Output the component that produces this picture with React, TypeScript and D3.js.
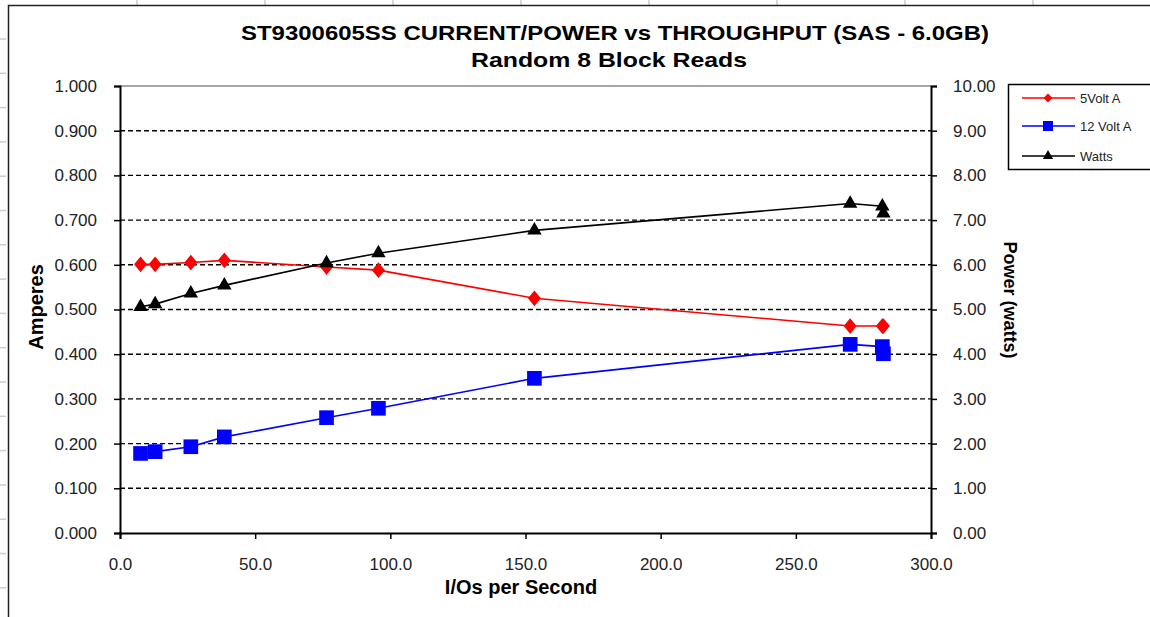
import React, { useEffect, useRef } from 'react';
import * as d3 from 'd3';

// values
const iops = [7.6, 13.0, 26.2, 38.6, 76.4, 95.6, 153.3, 270.1, 282.0, 282.4];
const volt5 = [0.601, 0.601, 0.605, 0.61, 0.595, 0.588, 0.525, 0.463, 0.463, 0.463];
const volt12 = [0.178, 0.182, 0.193, 0.215, 0.258, 0.279, 0.346, 0.422, 0.417, 0.401];
const watts = [5.06, 5.12, 5.36, 5.54, 6.04, 6.26, 6.77, 7.37, 7.31, 7.15];

const xTicks = [0, 50, 100, 150, 200, 250, 300];
const ampTicks = [0, 0.1, 0.2, 0.3, 0.4, 0.5, 0.6, 0.7, 0.8, 0.9, 1.0];
const wattTicks = [0, 1, 2, 3, 4, 5, 6, 7, 8, 9, 10];

const seriesNames = ['5Volt A', '12 Volt A', 'Watts'];
const seriesColors = ['#ff0000', '#0000ff', '#000000'];

const title1 = 'ST9300605SS CURRENT/POWER vs THROUGHPUT (SAS - 6.0GB)';
const title2 = 'Random 8 Block Reads';

const FONT = 'Arial, "Liberation Sans", sans-serif';

const App = () => {
  const ref = useRef<SVGSVGElement>(null);

  useEffect(() => {
    const W = 1150, H = 617;
    const svg = d3.select(ref.current);
    svg.selectAll('*').remove();

    const margin = { top: 86, left: 120, right: 931, bottom: 533 };

    // spreadsheet behind the chart
    const bg = svg.append('g');
    d3.range(39, H, 34.3).forEach((y) => {
      bg.append('line').attr('x1', 0).attr('x2', 6).attr('y1', y).attr('y2', y)
        .attr('stroke', '#c5cdd8').attr('stroke-width', 1.5);
    });
    d3.range(137, W, 128).forEach((x) => {
      bg.append('line').attr('x1', x).attr('x2', x).attr('y1', 0).attr('y2', 5)
        .attr('stroke', '#c5cdd8').attr('stroke-width', 1.5);
    });

    // chart frame
    svg.append('rect').attr('x', 8.5).attr('y', 5.5).attr('width', W + 20).attr('height', H + 20)
      .attr('fill', '#fff').attr('stroke', '#222').attr('stroke-width', 1.5);

    const x = d3.scaleLinear().domain([0, 300]).range([margin.left, margin.right]);
    const yA = d3.scaleLinear().domain([0, 1]).range([margin.bottom, margin.top]);
    const yW = d3.scaleLinear().domain([0, 10]).range([margin.bottom, margin.top]);

    // gridlines
    ampTicks.forEach((t) => {
      if (t === 0) return;
      svg.append('line')
        .attr('x1', margin.left).attr('x2', margin.right)
        .attr('y1', yA(t)).attr('y2', yA(t))
        .attr('stroke', t === 1 ? '#888' : '#000')
        .attr('stroke-width', 1.4)
        .attr('stroke-dasharray', t === 1 ? null : '5,3');
    });

    // left axis
    const left = svg.append('g').attr('transform', `translate(${margin.left},0)`)
      .call(d3.axisLeft(yA).tickValues(ampTicks).tickFormat(d3.format('.3f')).tickSize(6).tickPadding(17));
    // right axis
    const right = svg.append('g').attr('transform', `translate(${margin.right},0)`)
      .call(d3.axisRight(yW).tickValues(wattTicks).tickFormat(d3.format('.2f')).tickSize(6).tickPadding(16));
    // bottom axis
    const bottom = svg.append('g').attr('transform', `translate(0,${margin.bottom})`)
      .call(d3.axisBottom(x).tickValues(xTicks).tickFormat(d3.format('.1f')).tickSize(6).tickPadding(19));

    [left, right, bottom].forEach((g) => {
      g.select('.domain').attr('stroke', '#000').attr('stroke-width', 2);
      g.selectAll('.tick line').attr('stroke', '#000').attr('stroke-width', 1.5);
      g.selectAll('.tick text').attr('fill', '#222').style('font-family', FONT).style('font-size', '17px');
    });
    right.selectAll('.tick text').attr('text-anchor', 'start');

    // series
    const pts = (vals: number[], yS: d3.ScaleLinear<number, number>) =>
      iops.map((v, i) => [x(v), yS(vals[i])] as [number, number]);
    const line = d3.line();
    const data = [pts(volt5, yA), pts(volt12, yA), pts(watts, yW)];

    data.forEach((d, i) => {
      svg.append('path').attr('d', line(d)).attr('fill', 'none')
        .attr('stroke', seriesColors[i]).attr('stroke-width', 1.6);
    });

    const symbols = [
      d3.symbol().type(d3.symbolDiamond2).size(130),
      d3.symbol().type(d3.symbolSquare).size(215),
      d3.symbol().type(d3.symbolTriangle).size(90),
    ];
    data.forEach((d, i) => {
      svg.selectAll(null).data(d).enter().append('path')
        .attr('d', symbols[i]() as string)
        .attr('transform', (p) => `translate(${p[0]},${p[1]})${i === 0 ? ' scale(0.9,1.1)' : ''}`)
        .attr('fill', seriesColors[i]);
    });

    // titles
    svg.append('text').attr('x', 615).attr('y', 40).attr('text-anchor', 'middle')
      .attr('textLength', 748).attr('lengthAdjust', 'spacingAndGlyphs')
      .style('font-family', FONT).style('font-weight', 'bold').style('font-size', '21px')
      .text(title1);
    svg.append('text').attr('x', 609).attr('y', 67).attr('text-anchor', 'middle')
      .attr('textLength', 276).attr('lengthAdjust', 'spacingAndGlyphs')
      .style('font-family', FONT).style('font-weight', 'bold').style('font-size', '21px')
      .text(title2);

    svg.append('text').attr('transform', 'translate(43,307) rotate(-90)').attr('text-anchor', 'middle')
      .style('font-family', FONT).style('font-weight', 'bold').style('font-size', '20px')
      .text('Amperes');
    svg.append('text').attr('transform', 'translate(1004,300) rotate(90)').attr('text-anchor', 'middle')
      .style('font-family', FONT).style('font-weight', 'bold').style('font-size', '18px')
      .text('Power (watts)');
    svg.append('text').attr('x', 521).attr('y', 594).attr('text-anchor', 'middle')
      .style('font-family', FONT).style('font-weight', 'bold').style('font-size', '20px')
      .text('I/Os per Second');

    // legend
    const lg = svg.append('g');
    lg.append('rect').attr('x', 1008.5).attr('y', 84.5).attr('width', 160).attr('height', 85)
      .attr('fill', '#fff').attr('stroke', '#000').attr('stroke-width', 1.5);
    const legendY = [98, 126, 156];
    seriesNames.forEach((name, i) => {
      lg.append('line').attr('x1', 1022).attr('x2', 1075).attr('y1', legendY[i]).attr('y2', legendY[i])
        .attr('stroke', seriesColors[i]).attr('stroke-width', 1.5);
      const s = [
        d3.symbol().type(d3.symbolDiamond2).size(50),
        d3.symbol().type(d3.symbolSquare).size(100),
        d3.symbol().type(d3.symbolTriangle).size(45),
      ][i];
      lg.append('path').attr('d', s() as string)
        .attr('transform', `translate(1048,${legendY[i]})`).attr('fill', seriesColors[i]);
      lg.append('text').attr('x', 1080).attr('y', legendY[i] + 5)
        .style('font-family', FONT).style('font-size', '13px').attr('fill', '#222')
        .text(name);
    });
  }, []);

  return (
    <div style={{ position: 'absolute', left: 0, top: 0 }}>
      <svg ref={ref} width={1150} height={617} style={{ display: 'block', background: '#fff' }} />
    </div>
  );
};

export default App;
